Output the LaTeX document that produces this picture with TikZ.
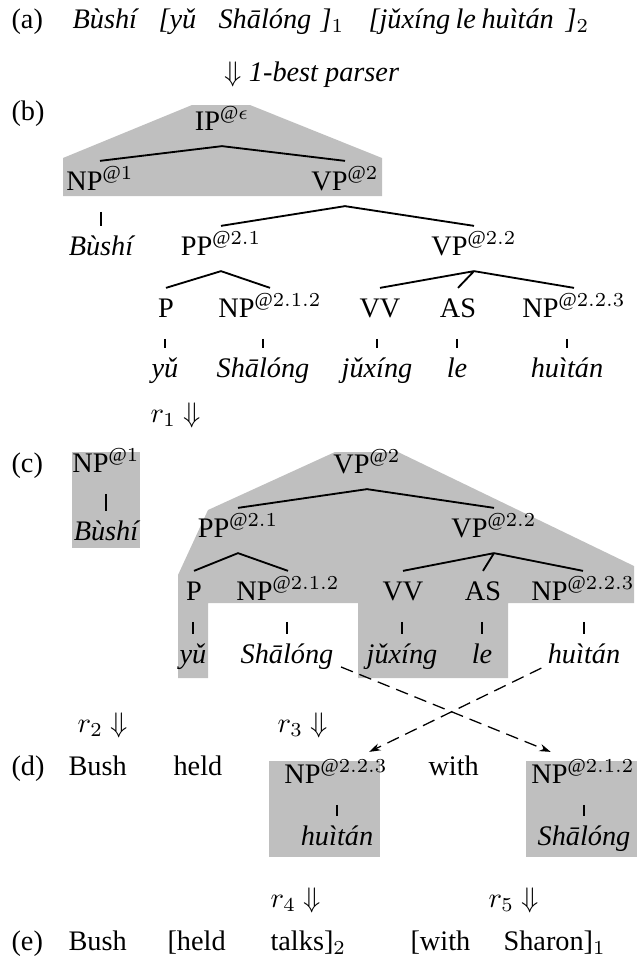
\documentclass[tikz,border=0pt]{standalone}
\usepackage{fontspec}
\setmainfont{Liberation Serif}
\usetikzlibrary{arrows.meta}
\tikzset{
  lbl/.style={inner sep=0pt,anchor=base west},
  tag/.style={inner xsep=0pt,inner ysep=3.5pt,text height=6.6pt,text depth=2pt,anchor=base},
  leaf/.style={tag,font=\itshape},
  branch/.style={line width=0.65pt},
  unary/.style={line width=0.65pt,shorten <=2pt},
  shade/.style={fill=black!25},
  move/.style={->,dash pattern=on 4.5pt off 2.5pt,line width=0.45pt}
}

\begin{document}
\begin{tikzpicture}[>={Stealth[length=4pt,width=2.6pt]},x=0.01242cm,y=-0.01242cm]
  \useasboundingbox (0,0) rectangle (637,958);
  \fill[shade] (192,105) -- (250,105) -- (382,158) -- (382,196) -- (63,196) -- (63,158) -- cycle;
  \fill[shade] (72,452) rectangle (140,548);
  \fill[shade] (335,452) -- (398,452) -- (634,566) -- (634,603) -- (508,603) -- (508,678) -- (358,678)
    -- (358,603) -- (208,603) -- (208,678) -- (178,678) -- (178,575) -- (208,510) -- cycle;
  \fill[shade] (269,761) rectangle (380,857);
  \fill[shade] (526,761) rectangle (637,857);

  \node[lbl] (a-lab) at (11,28) {(a)};
  \node[lbl,font=\itshape] (a-bushi) at (72,28) {Bùshí};
  \node[lbl,font=\itshape] (a-yu) at (158,28) {[yǔ};
  \node[lbl,font=\itshape] (a-shalong) at (218,28) {Shālóng};
  \node[lbl] (a-br1) at (320,28) {\textit{]}$_1$};
  \node[lbl,font=\itshape] (a-juxing) at (368,28) {[jǔxíng};
  \node[lbl,font=\itshape] (a-le) at (455,28) {le};
  \node[lbl,font=\itshape] (a-huitan) at (481,28) {huìtán};
  \node[lbl] (a-br2) at (565,28) {\textit{]}$_2$};
  \node[lbl] (parse) at (224,81) {$\Downarrow$ \textit{1-best parser}};

  \node[lbl] (b-lab) at (11,120) {(b)};
  \node[tag] (b-ip) at (222,130) {IP$^{@\epsilon}$};
  \node[tag] (b-np1) at (100,190) {NP$^{@1}$};
  \node[tag] (b-vp2) at (345,190) {VP$^{@2}$};
  \node[leaf] (b-bushi) at (101,255) {Bùshí};
  \node[tag] (b-pp21) at (221,255) {PP$^{@2.1}$};
  \node[tag] (b-vp22) at (474,255) {VP$^{@2.2}$};
  \node[tag] (b-p) at (166,317) {P};
  \node[tag] (b-np212) at (270,317) {NP$^{@2.1.2}$};
  \node[tag] (b-vv) at (380,317) {VV};
  \node[tag] (b-as) at (458,317) {AS};
  \node[tag] (b-np223) at (574,317) {NP$^{@2.2.3}$};
  \node[leaf] (b-yu) at (165,377) {yǔ};
  \node[leaf] (b-shalong) at (263,377) {Shālóng};
  \node[leaf] (b-juxing) at (377,377) {jǔxíng};
  \node[leaf] (b-le) at (457,377) {le};
  \node[leaf] (b-huitan) at (567,377) {huìtán};
  \node[lbl] (r1) at (150,422) {$r_1\Downarrow$};
  \draw[branch] (b-np1.north) -- (b-ip.south) -- (b-vp2.north);
  \draw[branch] (b-pp21.north) -- (b-vp2.south) -- (b-vp22.north);
  \draw[branch] (b-p.north) -- (b-pp21.south) -- (b-np212.north);
  \draw[branch] (b-vv.north) -- (b-vp22.south) -- (b-np223.north) (b-vp22.south) -- (b-as.north);
  \draw[unary] (b-bushi.north |- b-np1.south) -- (b-bushi.north);
  \draw[unary] (b-yu.north |- b-p.south) -- (b-yu.north);
  \draw[unary] (b-shalong.north |- b-np212.south) -- (b-shalong.north);
  \draw[unary] (b-juxing.north |- b-vv.south) -- (b-juxing.north);
  \draw[unary] (b-le.north |- b-as.south) -- (b-le.north);
  \draw[unary] (b-huitan.north |- b-np223.south) -- (b-huitan.north);

  \node[lbl] (c-lab) at (11,472) {(c)};
  \node[tag] (c-np1) at (106,472) {NP$^{@1}$};
  \node[leaf] (c-bushi) at (106,540) {Bùshí};
  \node[tag] (c-vp2) at (367,473) {VP$^{@2}$};
  \node[tag] (c-pp21) at (238,537) {PP$^{@2.1}$};
  \node[tag] (c-vp22) at (494,537) {VP$^{@2.2}$};
  \node[tag] (c-p) at (194,600) {P};
  \node[tag] (c-np212) at (288,600) {NP$^{@2.1.2}$};
  \node[tag] (c-vv) at (403,600) {VV};
  \node[tag] (c-as) at (483,600) {AS};
  \node[tag] (c-np223) at (583,600) {NP$^{@2.2.3}$};
  \node[leaf] (c-yu) at (193,663) {yǔ};
  \node[leaf] (c-shalong) at (287,663) {Shālóng};
  \node[leaf] (c-juxing) at (402,663) {jǔxíng};
  \node[leaf] (c-le) at (482,663) {le};
  \node[leaf] (c-huitan) at (584,663) {huìtán};
  \draw[branch] (c-pp21.north) -- (c-vp2.south) -- (c-vp22.north);
  \draw[branch] (c-p.north) -- (c-pp21.south) -- (c-np212.north);
  \draw[branch] (c-vv.north) -- (c-vp22.south) -- (c-np223.north) (c-vp22.south) -- (c-as.north);
  \draw[unary] (c-bushi.north |- c-np1.south) -- (c-bushi.north);
  \draw[unary] (c-yu.north |- c-p.south) -- (c-yu.north);
  \draw[unary] (c-shalong.north |- c-np212.south) -- (c-shalong.north);
  \draw[unary] (c-juxing.north |- c-vv.south) -- (c-juxing.north);
  \draw[unary] (c-le.north |- c-as.south) -- (c-le.north);
  \draw[unary] (c-huitan.north |- c-np223.south) -- (c-huitan.north);
  \node[lbl] (r2) at (77,732) {$r_2\Downarrow$};
  \node[lbl] (r3) at (277,732) {$r_3\Downarrow$};

  \node[lbl] (d-lab) at (11,775) {(d)};
  \node[lbl] (d-bush) at (68,775) {Bush};
  \node[lbl] (d-held) at (173,775) {held};
  \node[lbl] (d-with) at (428,775) {with};
  \node[tag] (d-np223) at (336,783) {NP$^{@2.2.3}$};
  \node[leaf] (d-huitan) at (337,845) {huìtán};
  \node[tag] (d-np212) at (583,783) {NP$^{@2.1.2}$};
  \node[leaf] (d-shalong) at (584,845) {Shālóng};
  \draw[unary] (d-huitan.north |- d-np223.south) -- (d-huitan.north);
  \draw[unary] (d-shalong.north |- d-np212.south) -- (d-shalong.north);
  \draw[move] ([shift={(2.5pt,-1.4pt)}]c-shalong.base east) -- ([shift={(7pt,0.7pt)}]d-np212.north west);
  \draw[move] ([shift={(-2.1pt,-1.8pt)}]c-huitan.base west) -- ([shift={(-6.7pt,0.7pt)}]d-np223.north east);
  \node[lbl] (r4) at (270,907) {$r_4\Downarrow$};
  \node[lbl] (r5) at (488,907) {$r_5\Downarrow$};

  \node[lbl] (e-lab) at (11,950) {(e)};
  \node[lbl] (e-bush) at (68,950) {Bush};
  \node[lbl] (e-held) at (167,950) {[held};
  \node[lbl] (e-talks) at (270,950) {talks]$_2$};
  \node[lbl] (e-with) at (410,950) {[with};
  \node[lbl] (e-sharon) at (503,950) {Sharon]$_1$};
\end{tikzpicture}
\end{document}
